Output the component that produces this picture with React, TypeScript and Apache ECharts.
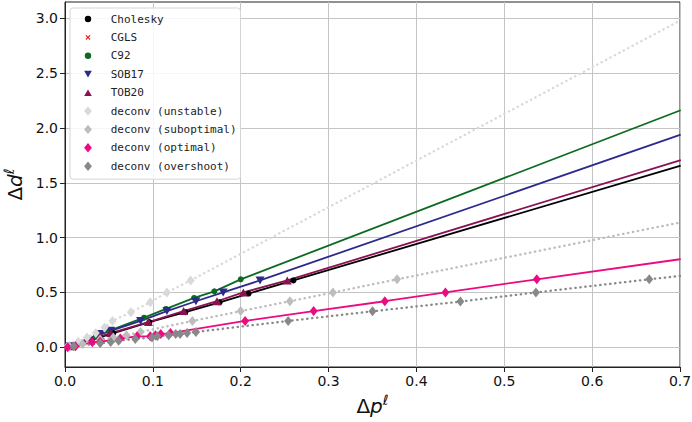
import React, { useEffect, useRef } from "react";
import * as echarts from "echarts";

const X_END = 0.7;
const yTicks = [0, 0.5, 1.0, 1.5, 2.0, 2.5, 3.0];

const seriesNames = [
  "Cholesky",
  "CGLS",
  "C92",
  "SOB17",
  "TOB20",
  "deconv (unstable)",
  "deconv (suboptimal)",
  "deconv (optimal)",
  "deconv (overshoot)",
];

const cholesky = [[0.005, 0.01], [0.04, 0.09], [0.055, 0.13], [0.096, 0.23], [0.137, 0.32], [0.176, 0.41], [0.209, 0.49], [0.26, 0.61]];
const cgls = [[0.005, 0.01], [0.04, 0.09], [0.055, 0.13], [0.096, 0.23], [0.137, 0.32], [0.176, 0.41], [0.209, 0.49], [0.26, 0.61]];
const c92 = [[0.005, 0.01], [0.035, 0.1], [0.05, 0.15], [0.09, 0.27], [0.115, 0.35], [0.147, 0.45], [0.17, 0.51], [0.2, 0.62]];
const sob17 = [[0.005, 0.01], [0.04, 0.12], [0.052, 0.15], [0.086, 0.24], [0.116, 0.33], [0.149, 0.42], [0.18, 0.5], [0.222, 0.61]];
const tob20 = [[0.005, 0.01], [0.04, 0.1], [0.052, 0.13], [0.095, 0.23], [0.135, 0.33], [0.173, 0.42], [0.203, 0.5], [0.253, 0.61]];
const unstable = [[0.003, 0.01], [0.015, 0.05], [0.025, 0.09], [0.035, 0.13], [0.045, 0.18], [0.054, 0.24], [0.075, 0.32], [0.097, 0.41], [0.116, 0.5], [0.143, 0.61]];
const suboptimal = [[0.005, 0.01], [0.02, 0.03], [0.04, 0.07], [0.055, 0.09], [0.07, 0.11], [0.086, 0.14], [0.145, 0.24], [0.2, 0.33], [0.256, 0.42], [0.305, 0.5], [0.378, 0.62]];
const optimal = [[0.003, 0.0], [0.012, 0.01], [0.031, 0.045], [0.04, 0.05], [0.063, 0.08], [0.082, 0.1], [0.097, 0.1], [0.103, 0.11], [0.109, 0.12], [0.12, 0.13], [0.205, 0.24], [0.283, 0.33], [0.364, 0.42], [0.433, 0.5], [0.537, 0.62]];
const overshoot = [[0.01, 0.01], [0.04, 0.036], [0.052, 0.048], [0.061, 0.06], [0.08, 0.075], [0.099, 0.09], [0.105, 0.1], [0.118, 0.11], [0.126, 0.12], [0.131, 0.12], [0.139, 0.13], [0.149, 0.14], [0.254, 0.24], [0.35, 0.328], [0.45, 0.417], [0.536, 0.5], [0.665, 0.62]];

// y value of each fitted line at x = 0.7
const lineEnds = [1.654, 1.654, 2.16, 1.937, 1.706, 2.98, 1.138, 0.803, 0.651];

const allPoints = [cholesky, cgls, c92, sob17, tob20, unstable, suboptimal, optimal, overshoot];

const colors = ["#000000", "#e8231d", "#0c6b22", "#2c2a8c", "#8a1152", "#d9d9d9", "#bdbdbd", "#ec0a82", "#888888"];
const lineDotted = [false, false, false, false, false, true, true, false, true];
const showLine = [true, false, true, true, true, true, true, true, true];

const CROSS = "path://M0,1 L1,0 L5,4 L9,0 L10,1 L6,5 L10,9 L9,10 L5,6 L1,10 L0,9 L4,5 Z";
const TRI_DOWN = "path://M0,0 L10,0 L5,9 Z";
const TRI_UP = "path://M0,9 L10,9 L5,0 Z";
const symbols = ["circle", CROSS, "circle", TRI_DOWN, TRI_UP, "diamond", "diamond", "diamond", "diamond"];
const symbolSizes = [6, 4, 6, [9, 8], [9, 8], [8, 10], [8, 10], [8, 10], [8, 10]];

// legend icons padded inside a 12x12 box so that they keep their own sizes
const PAD = "M0,0 M12,12 ";
const L_CIRCLE = "path://" + PAD + "M2.8,6 A3.2,3.2 0 1,0 9.2,6 A3.2,3.2 0 1,0 2.8,6 Z";
const L_CROSS = "path://" + PAD + "M3.5,4.3 L4.3,3.5 L6,5.2 L7.7,3.5 L8.5,4.3 L6.8,6 L8.5,7.7 L7.7,8.5 L6,6.8 L4.3,8.5 L3.5,7.7 L5.2,6 Z";
const L_TRI_DOWN = "path://" + PAD + "M2.2,2.6 L9.8,2.6 L6,9.2 Z";
const L_TRI_UP = "path://" + PAD + "M2.2,9.4 L9.8,9.4 L6,2.8 Z";
const L_DIAMOND = "path://" + PAD + "M6,1.3 L9.9,6 L6,10.7 L2.1,6 Z";
const legendIcons = [L_CIRCLE, L_CROSS, L_CIRCLE, L_TRI_DOWN, L_TRI_UP, L_DIAMOND, L_DIAMOND, L_DIAMOND, L_DIAMOND];

export default function App() {
  const ref = useRef<HTMLDivElement>(null);
  useEffect(() => {
    const chart = echarts.init(ref.current!, null, { renderer: "svg" });
    const series: any[] = [];
    seriesNames.forEach((name, i) => {
      if (showLine[i]) {
        series.push({
          type: "line",
          name: name + " fit",
          data: [...allPoints[i], [X_END, lineEnds[i]]],
          symbol: "none",
          showSymbol: false,
          z: 2 + i * 0.1,
          lineStyle: {
            color: colors[i],
            width: lineDotted[i] ? 2.3 : 1.8,
            type: lineDotted[i] ? [0.4, 4.6] : "solid",
            cap: "round",
          },
          silent: true,
        });
      }
      series.push({
        type: "scatter",
        name,
        data: allPoints[i],
        symbol: symbols[i],
        symbolSize: symbolSizes[i],
        z: i === 1 ? 2 : 3 + i * 0.1,
        itemStyle: { color: colors[i], opacity: 1 },
      });
    });

    const richName = {
      d: { fontSize: 20, fontFamily: "DejaVu Sans", color: "#111", lineHeight: 26 },
      v: { fontSize: 20, fontFamily: "DejaVu Sans", fontStyle: "italic", color: "#111", lineHeight: 26 },
      s: { fontSize: 14, fontFamily: "DejaVu Sans", fontStyle: "italic", color: "#111", lineHeight: 16, verticalAlign: "top" },
    };

    chart.setOption({
      animation: false,
      backgroundColor: "#ffffff",
      grid: {
        left: 65,
        right: 12,
        top: 2,
        bottom: 55,
        show: true,
        borderColor: "#222",
        borderWidth: 1,
        containLabel: false,
        outerBoundsMode: "none",
      },
      legend: {
        data: seriesNames.map((n, i) => ({
          name: n,
          icon: legendIcons[i],
          itemStyle: { color: colors[i] },
        })),
        orient: "vertical",
        left: 70,
        top: 8,
        padding: [5, 4, 7, 12],
        itemWidth: 12,
        itemHeight: 12,
        itemGap: 6.4,
        backgroundColor: "rgba(255,255,255,0.85)",
        borderColor: "#d5d5d5",
        borderWidth: 1,
        borderRadius: 3,
        selectedMode: false,
        textStyle: {
          fontFamily: "DejaVu Sans Mono",
          fontSize: 11,
          color: "#222",
          padding: [0, 0, 0, 11.7],
        },
      },
      xAxis: {
        type: "value",
        min: 0,
        max: 0.7,
        interval: 0.1,
        name: "{d|Δ}{v|p}{s|ℓ}",
        nameLocation: "middle",
        nameGap: 24,
        nameTextStyle: { rich: richName },
        axisLine: { show: true, onZero: false, lineStyle: { color: "#222", width: 1 } },
        axisTick: { show: true, length: 5, inside: false, lineStyle: { color: "#222" } },
        axisLabel: {
          fontFamily: "DejaVu Sans",
          fontSize: 14,
          color: "#111",
          margin: 7,
          formatter: (v: number) => v.toFixed(1),
        },
        splitLine: { show: true, lineStyle: { color: "#c4c4c4", width: 1 } },
      },
      yAxis: {
        type: "value",
        min: -0.18,
        max: 3.15,
        name: "{d|Δ}{v|d}{s|ℓ}",
        nameLocation: "middle",
        nameGap: 30,
        nameTextStyle: { rich: richName },
        axisLine: { show: true, onZero: false, lineStyle: { color: "#222", width: 1 } },
        axisTick: { show: true, length: 5, inside: false, customValues: yTicks, lineStyle: { color: "#222" } },
        axisLabel: {
          fontFamily: "DejaVu Sans",
          fontSize: 14,
          color: "#111",
          margin: 7,
          customValues: yTicks,
          formatter: (v: number) => v.toFixed(1),
        },
        splitLine: { show: true, lineStyle: { color: "#c4c4c4", width: 1 } },
      },
      series,
    });
    return () => chart.dispose();
  }, []);
  return (
    <div
      ref={ref}
      style={{ width: 692, height: 422, position: "fixed", left: 0, top: 0 }}
    />
  );
}
